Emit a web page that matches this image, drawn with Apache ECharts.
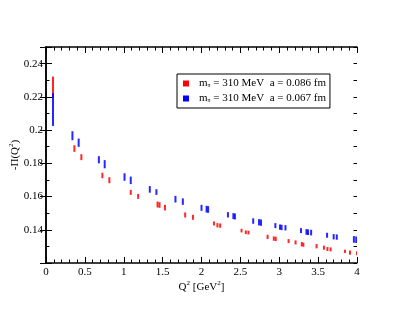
<!DOCTYPE html>
<html><head><meta charset="utf-8">
<script src="https://cdn.jsdelivr.net/npm/echarts@6/dist/echarts.min.js"></script>
<style>html,body{margin:0;padding:0;background:#fff}#c{width:402px;height:310px}</style>
</head><body><div id="c"></div>
<script>
var redQ  = [0.09, 0.365, 0.455, 0.725, 0.815, 1.09, 1.185, 1.435, 1.46, 1.53, 1.79, 1.89, 2.16, 2.205, 2.24, 2.515, 2.57, 2.605, 2.85, 2.93, 2.955, 3.12, 3.21, 3.29, 3.31, 3.48, 3.575, 3.62, 3.66, 3.845, 3.91, 4.0];
var redLo = [0.2195, 0.1869, 0.1819, 0.171, 0.168, 0.161, 0.1586, 0.1534, 0.1532, 0.1516, 0.1474, 0.146, 0.1426, 0.1414, 0.1412, 0.1384, 0.1374, 0.1372, 0.1344, 0.1334, 0.1332, 0.132, 0.1312, 0.13, 0.1298, 0.1288, 0.128, 0.1272, 0.127, 0.126, 0.125, 0.1247];
var redHi = [0.2322, 0.1909, 0.1855, 0.1743, 0.1716, 0.164, 0.1616, 0.157, 0.1566, 0.155, 0.1504, 0.149, 0.145, 0.144, 0.1438, 0.1406, 0.1396, 0.1394, 0.137, 0.136, 0.1358, 0.1344, 0.1336, 0.1326, 0.1322, 0.1314, 0.1304, 0.1296, 0.1294, 0.128, 0.1275, 0.1271];
var blueQ  = [0.09, 0.34, 0.42, 0.68, 0.755, 1.01, 1.09, 1.335, 1.42, 1.665, 1.76, 2.0, 2.065, 2.085, 2.34, 2.41, 2.43, 2.665, 2.74, 2.765, 2.95, 3.01, 3.03, 3.08, 3.28, 3.35, 3.37, 3.41, 3.615, 3.70, 3.74, 3.96, 3.99];
var blueLo = [0.2025, 0.1939, 0.1899, 0.18, 0.177, 0.1695, 0.1675, 0.1623, 0.161, 0.1564, 0.155, 0.1514, 0.1504, 0.1502, 0.1474, 0.1464, 0.1462, 0.1436, 0.1426, 0.1424, 0.141, 0.14, 0.1398, 0.1396, 0.138, 0.137, 0.1368, 0.1366, 0.1352, 0.1342, 0.134, 0.1322, 0.132];
var blueHi = [0.2222, 0.1993, 0.1949, 0.1843, 0.1819, 0.174, 0.172, 0.1663, 0.1644, 0.1604, 0.1589, 0.155, 0.1544, 0.1542, 0.1506, 0.15, 0.1498, 0.1469, 0.1464, 0.1462, 0.144, 0.1432, 0.143, 0.1428, 0.141, 0.1404, 0.1402, 0.14, 0.1382, 0.1374, 0.1372, 0.1362, 0.136];
var xTicks = [0, 0.5, 1, 1.5, 2, 2.5, 3, 3.5, 4];
var yTickLabels = [0.14, 0.16, 0.18, 0.2, 0.22, 0.24];
var seriesNames = ['red', 'blue'];
var legendA = ['0.086', '0.067'];

var FONT = '"Liberation Serif", "DejaVu Serif", serif';
function zip(q, lo, hi) { return q.map(function (v, i) { return [v, lo[i], hi[i]]; }); }
function renderBar(params, api) {
  var p1 = api.coord([api.value(0), api.value(1)]);
  var p2 = api.coord([api.value(0), api.value(2)]);
  return {
    type: 'rect',
    shape: { x: p1[0] - 1, y: p2[1], width: 2, height: p1[1] - p2[1] },
    style: { fill: api.visual('color'), opacity: 0.85 }
  };
}
var axisLine = { show: true, lineStyle: { color: '#000', width: 1.5 } };
var chart = echarts.init(document.getElementById('c'));
function xAx(pos, showLabel) {
  return {
    type: 'value', position: pos, min: 0, max: 4, interval: 0.5,
    axisLine: axisLine,
    axisTick: { show: true, inside: true, length: 6, lineStyle: { color: '#000', width: 1 } },
    minorTick: { show: true, splitNumber: 5, length: 3.5, lineStyle: { color: '#000', width: 1 } },
    splitLine: { show: false }, minorSplitLine: { show: false },
    axisLabel: { show: showLabel, fontFamily: FONT, fontSize: 11, color: '#000', margin: 4,
      formatter: function (v) { return xTicks.indexOf(v) >= 0 ? String(v) : ''; } },
    name: showLabel ? '{t|Q}{s|2}{t| [GeV}{s|2}{t|]}' : '',
    nameLocation: 'middle', nameGap: 17, nameMoveOverlap: false,
    nameTextStyle: { rich: { t: { fontFamily: FONT, fontSize: 11, color: '#000' }, s: { fontFamily: FONT, fontSize: 7, color: '#000', padding: [0, 0, 7, 0] } } }
  };
}
function yAx(pos, interval, len, showLabel, showLine) {
  return {
    type: 'value', position: pos, min: 0.12, max: 0.25, interval: interval,
    axisLine: showLine ? axisLine : { show: false },
    axisTick: { show: true, inside: true, length: len, lineStyle: { color: '#000', width: 1 } },
    splitLine: { show: false },
    axisLabel: { show: showLabel, fontFamily: FONT, fontSize: 11, color: '#000', margin: 3,
      formatter: function (v) {
        var r = Math.round(v * 100) / 100;
        return yTickLabels.indexOf(r) >= 0 ? String(r) : '';
      } },
    name: showLabel ? '{t|-\u03a0(Q}{s|2}{t|)}' : '',
    nameLocation: 'middle', nameGap: 24, nameRotate: 90, nameMoveOverlap: false,
    nameTextStyle: { rich: { t: { fontFamily: FONT, fontSize: 11, color: '#000' }, s: { fontFamily: FONT, fontSize: 7, color: '#000', padding: [0, 0, 7, 0] } } }
  };
}
var legendRich = {
  t: { fontFamily: FONT, fontSize: 11, color: '#000' },
  s: { fontFamily: FONT, fontSize: 6, color: '#000', padding: [4, 0, 0, 0] }
};
chart.setOption({
  animation: false,
  grid: { left: 46, right: 45, top: 47, bottom: 47, containLabel: false, outerBoundsMode: 'none' },
  xAxis: [xAx('bottom', true), xAx('top', false)],
  yAxis: [
    yAx('left', 0.02, 6, true, true),
    yAx('right', 0.02, 6, false, true),
    yAx('left', 0.01, 3.5, false, false),
    yAx('right', 0.01, 3.5, false, false)
  ],
  legend: {
    left: 177, top: 74, orient: 'vertical',
    borderColor: '#000', borderWidth: 1, padding: [4, 4, 4, 6], itemGap: 4,
    icon: 'rect', itemWidth: 6, itemHeight: 6,
    data: seriesNames,
    formatter: function (name) {
      var i = seriesNames.indexOf(name);
      return '{t|m}{s|\u03c0}{t| = 310 MeV  a = ' + legendA[i] + ' fm}';
    },
    textStyle: { rich: legendRich, padding: [0, 0, 0, 5] }
  },
  series: [
    { name: 'red', type: 'custom', renderItem: renderBar, clip: true, itemStyle: { color: '#ff0000' }, data: zip(redQ, redLo, redHi), encode: { x: 0, y: [1, 2] } },
    { name: 'blue', type: 'custom', renderItem: renderBar, clip: true, itemStyle: { color: '#0000ff' }, data: zip(blueQ, blueLo, blueHi), encode: { x: 0, y: [1, 2] } }
  ]
});
</script></body></html>
